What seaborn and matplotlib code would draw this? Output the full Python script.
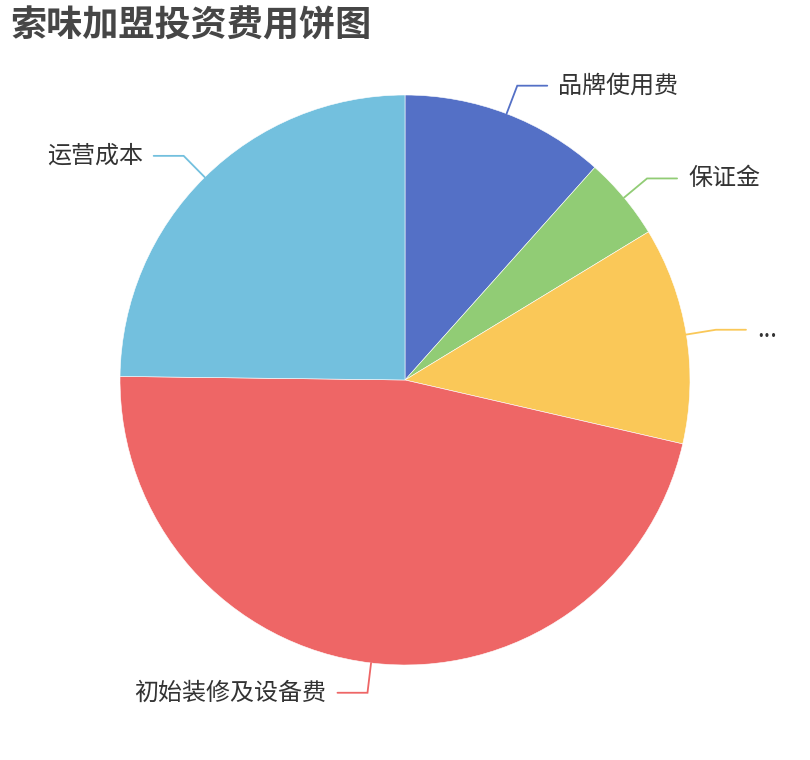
import numpy as np
import matplotlib.pyplot as plt
import seaborn as sns

# data (shares of the total, %)
names = ['品牌使用费', '保证金', '...', '初始装修及设备费', '运营成本']
values = [11.6, 4.7, 12.3, 46.6, 24.8]
colors = ['#5470c6', '#91cc75', '#fac858', '#ee6666', '#73c0de']

sns.set_theme(style='white')
plt.rcParams['font.family'] = ['Noto Sans CJK SC', 'DejaVu Sans']

fig = plt.figure(figsize=(8.1, 7.6), dpi=100)
ax = fig.add_axes([0, 0, 1, 1])

cx, cy, r = 405, 380, 285
wedges, _ = ax.pie(values, colors=colors, startangle=90, counterclock=False,
                   center=(cx, cy), radius=r,
                   wedgeprops=dict(linewidth=0.4, edgecolor='white'))

# pie() sets its own limits, so put the pixel frame back afterwards
ax.set_xlim(0, 810)
ax.set_ylim(0, 760)
ax.set_aspect('equal')
ax.axis('off')

# label lines: radial segment then horizontal one, like echarts
for w, name, c in zip(wedges, names, colors):
    mid = np.deg2rad((w.theta1 + w.theta2) / 2)
    dx, dy = np.cos(mid), np.sin(mid)
    x0, y0 = cx + r * dx, cy + r * dy
    x1, y1 = cx + (r + 30) * dx, cy + (r + 30) * dy
    side = 1 if dx >= 0 else -1
    x2 = x1 + side * 30
    ax.plot([x0, x1, x2], [y0, y1, y1], color=c, lw=1.3, solid_joinstyle='miter')
    ax.text(x2 + side * 11, y1, name, ha='left' if side > 0 else 'right',
            va='center', fontsize=17.3, color='#333333')

fig.text(10 / 810, 1 - 26 / 760, '索味加盟投资费用饼图', fontsize=26,
         fontweight='bold', color='#464646', ha='left', va='center')

fig.savefig('out.png', dpi=100)
